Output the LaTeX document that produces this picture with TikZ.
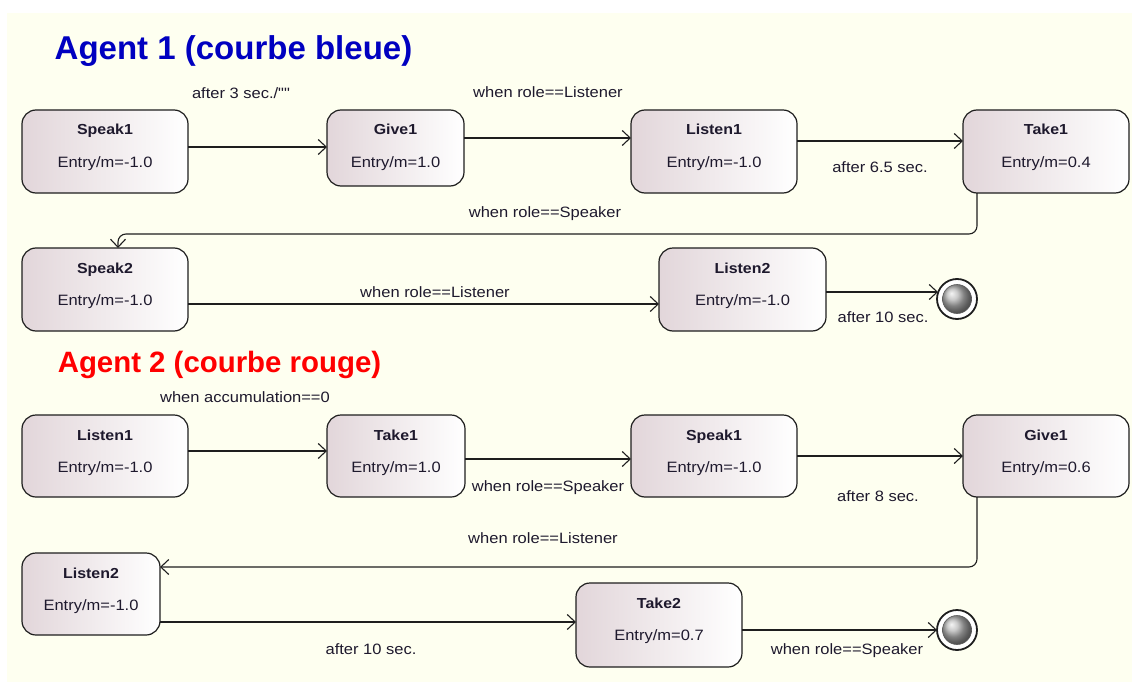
\documentclass[tikz,border=0pt]{standalone}
\usepackage{fontspec}
\setmainfont{Liberation Sans}
\newfontfamily\lab{Liberation Sans}[FakeStretch=1.1]
\usetikzlibrary{arrows.meta,calc}
\definecolor{bg}{RGB}{254,255,240}
\definecolor{stL}{RGB}{226,214,218}
\definecolor{tblue}{RGB}{0,0,192}
\definecolor{tred}{RGB}{255,0,0}
\definecolor{edgec}{RGB}{30,30,30}
\definecolor{txt}{RGB}{30,25,45}
\tikzset{
 statebox/.style={draw=edgec, line width=1.2pt, rounded corners=14pt, left color=stL, right color=white, inner sep=0pt, outer sep=0pt},
 stname/.style={font=\lab\fontsize{14.5}{17}\selectfont\bfseries, anchor=base, text=txt, inner sep=0pt},
 stentry/.style={font=\lab\fontsize{15}{18}\selectfont, anchor=base, text=txt, inner sep=0pt},
 elabel/.style={font=\lab\fontsize{15}{18}\selectfont, anchor=base, text=txt, inner sep=0pt},
 trans/.style={draw=edgec, line width=1.1pt, -{Straight Barb[length=8pt,width=15pt,line width=1.1pt]}},
 titletext/.style={anchor=base, inner sep=0pt},
 finalring/.style={circle, draw=edgec, line width=1.8pt, fill=white, minimum size=40pt, inner sep=0pt, outer sep=0pt},
 finalball/.style={circle, draw=gray!70!black, line width=0.6pt, shading=ball, ball color=gray!55, minimum size=29pt, inner sep=0pt},
}
\newcommand\mkstate[7]{%
 \node[statebox, minimum width={(#4-#2)*1pt}, minimum height={(#5-#3)*1pt}] (#1) at ({(#2+#4)/2},{(#3+#5)/2}) {};
 \node[stname] (#1-t) at ({(#2+#4)/2},{#3+25}) {#6};
 \node[stentry] (#1-e) at ({(#2+#4)/2},{#3+57}) {#7};
}
\begin{document}
\begin{tikzpicture}[x=1pt,y=-1pt]
\useasboundingbox (0,0) rectangle (1132,682);
\fill[white] (0,0) rectangle (1132,682);
\fill[bg] (7,13) rectangle (1132,682);
% titles
\node[titletext, text=tblue, font=\fontsize{33}{38}\selectfont\bfseries] (T1) at (233.5,60) {Agent 1 (courbe bleue)};
\node[titletext, text=tred, font=\fontsize{29.4}{34}\selectfont\bfseries] (T2) at (219.5,372) {Agent 2 (courbe rouge)};
% Agent 1 states
\mkstate{AS1}{22}{110}{188}{193}{Speak1}{Entry/m=-1.0}
\mkstate{AG1}{327}{110}{464}{186}{Give1}{Entry/m=1.0}
\mkstate{AL1}{631}{110}{797}{193}{Listen1}{Entry/m=-1.0}
\mkstate{AT1}{963}{110}{1129}{193}{Take1}{Entry/m=0.4}
\mkstate{AS2}{22}{248}{188}{331}{Speak2}{Entry/m=-1.0}
\mkstate{AL2}{659}{248}{826}{331}{Listen2}{Entry/m=-1.0}
\node[finalring] (F1) at (957,299) {};
\node[finalball] (F1b) at (F1) {};
% Agent 2 states
\mkstate{BL1}{22}{415}{188}{497}{Listen1}{Entry/m=-1.0}
\mkstate{BT1}{327}{415}{465}{497}{Take1}{Entry/m=1.0}
\mkstate{BS1}{631}{415}{797}{497}{Speak1}{Entry/m=-1.0}
\mkstate{BG1}{963}{415}{1129}{497}{Give1}{Entry/m=0.6}
\mkstate{BL2}{22}{553}{160}{635}{Listen2}{Entry/m=-1.0}
\mkstate{BT2}{576}{583}{742}{667}{Take2}{Entry/m=0.7}
\node[finalring] (F2) at (957,630) {};
\node[finalball] (F2b) at (F2) {};
% Agent 1 transitions
\draw[trans] (AS1.east |- 0,147) -- (AG1.west |- 0,147);
\draw[trans] (AG1.east |- 0,138) -- (AL1.west |- 0,138);
\draw[trans] (AL1.east |- 0,141) -- (AT1.west |- 0,141);
\draw[trans, rounded corners=8pt] (AT1.south -| 977,0) -- (977,234) -- (118,234) -- (AS2.north -| 118,0);
\draw[trans] (AS2.east |- 0,304) -- (AL2.west |- 0,304);
\draw[trans] (AL2.east |- 0,292) -- (938,292);
% Agent 2 transitions
\draw[trans] (BL1.east |- 0,451) -- (BT1.west |- 0,451);
\draw[trans] (BT1.east |- 0,459) -- (BS1.west |- 0,459);
\draw[trans] (BS1.east |- 0,456) -- (BG1.west |- 0,456);
\draw[trans, rounded corners=8pt] (BG1.south -| 977,0) -- (977,567) -- (BL2.east |- 0,567);
\draw[trans] (BL2.east |- 0,622) -- (BT2.west |- 0,622);
\draw[trans] (BT2.east |- 0,630) -- (F2.west);
% labels
\node[elabel] (l1) at (241,99) {after 3 sec./""};
\node[elabel] (l2) at (548,98) {when role==Listener};
\node[elabel] (l3) at (880,172) {after 6.5 sec.};
\node[elabel] (l4) at (545,217) {when role==Speaker};
\node[elabel] (l5) at (435,297) {when role==Listener};
\node[elabel] (l6) at (883,322) {after 10 sec.};
\node[elabel] (l7) at (245,402) {when accumulation==0};
\node[elabel] (l8) at (548,491) {when role==Speaker};
\node[elabel] (l9) at (878,501) {after 8 sec.};
\node[elabel] (l10) at (543,543) {when role==Listener};
\node[elabel] (l11) at (371,654) {after 10 sec.};
\node[elabel] (l12) at (847,654) {when role==Speaker};
\end{tikzpicture}
\end{document}
